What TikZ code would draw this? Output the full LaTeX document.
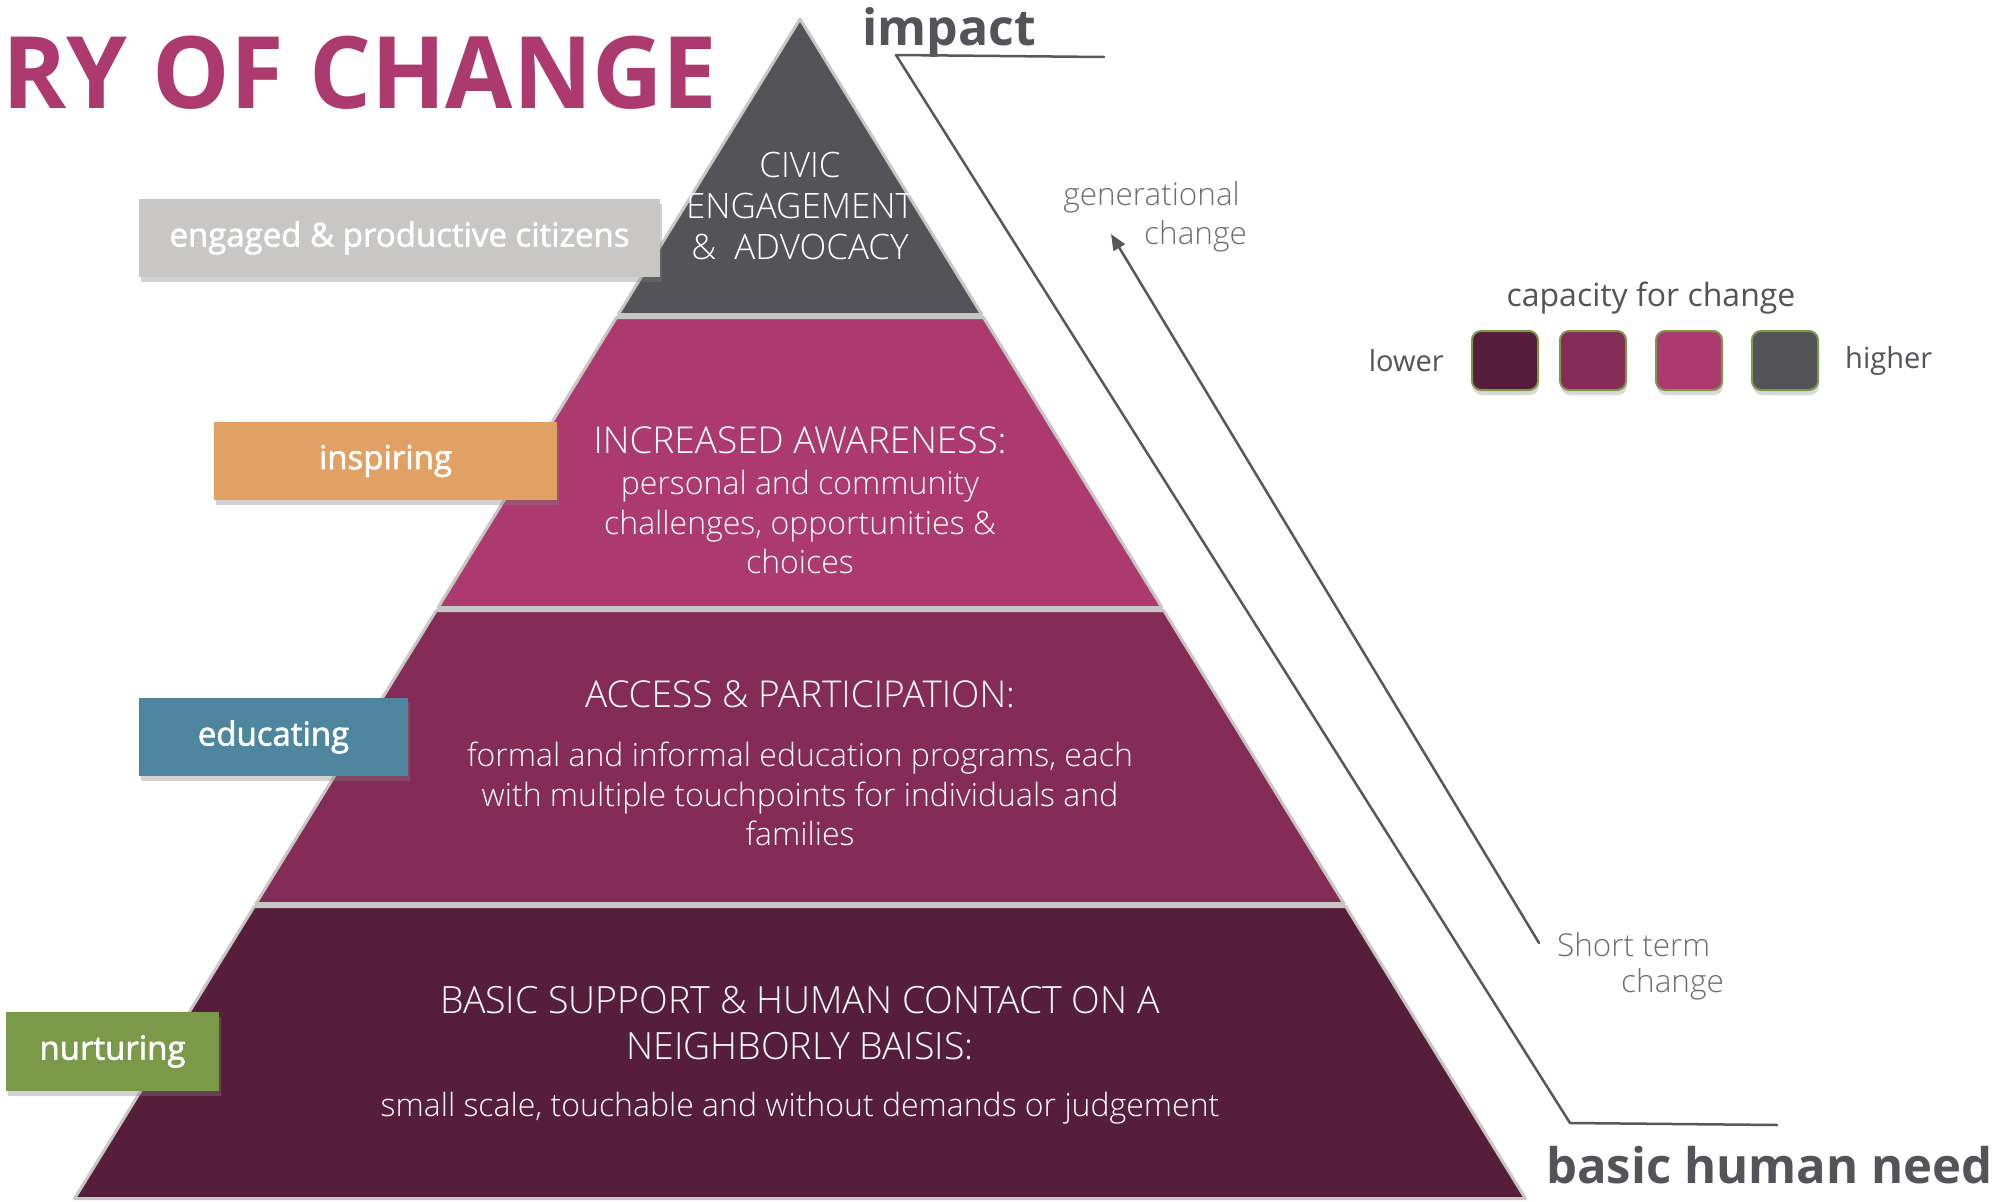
\documentclass[tikz,border=0pt]{standalone}
\usepackage{fontspec}
\setmainfont{Open Sans}
\newfontfamily\lightfont{Open Sans Light}
\newfontfamily\semifont{Open Sans}[FakeBold=1.8]
\usepackage{tikz}
\usetikzlibrary{positioning}
\usetikzlibrary{arrows.meta,shadows,calc}
\definecolor{tierA}{HTML}{545358}
\definecolor{tierB}{HTML}{AD3A6F}
\definecolor{tierC}{HTML}{842B56}
\definecolor{tierD}{HTML}{571E3B}
\definecolor{rim}{HTML}{C8C7C5}
\definecolor{inspire}{HTML}{E1A064}
\definecolor{educate}{HTML}{4E86A0}
\definecolor{nurture}{HTML}{7A9A4A}
\definecolor{guide}{HTML}{58585A}
\definecolor{soft}{HTML}{6E6E70}
\newcommand{\fs}[2]{\fontsize{#1}{#2}\selectfont}
\tikzstyle{every path}=[line join=round,line cap=round]
\tikzstyle{tierbox}=[draw=rim,line width=3pt]
\tikzstyle{tiertext}=[text=white,align=center,inner sep=0pt]
\tikzstyle{tagbox}=[inner sep=0pt,minimum height=78pt,text=white,
  font=\semifont\fs{33}{38},drop shadow={opacity=0.35,shadow xshift=2pt,shadow yshift=-5pt}]
\tikzstyle{guideline}=[draw=guide,line width=2.5pt]
\tikzstyle{swatch}=[draw=nurture,line width=2pt,rounded corners=9pt,minimum width=66pt,
  minimum height=59pt,inner sep=0pt,drop shadow={opacity=0.3,shadow xshift=1pt,shadow yshift=-5pt}]
\tikzstyle{note}=[text=soft,font=\lightfont\fs{31.5}{36},inner sep=0pt]

\begin{document}
\begin{tikzpicture}[x=1pt,y=-1pt]
  \useasboundingbox (0,0) rectangle (1998,1202);
  \fill[white] (0,0) rectangle (1998,1202);

  % pyramid tiers: top, bottom, colour
  \foreach \yt/\yb/\cl in {19/314.5/tierA,317.5/607.5/tierB,610.5/903.5/tierC,906.5/1198.5/tierD}
   {
    \pgfmathsetmacro{\wt}{0.615*(\yt-19)}
    \pgfmathsetmacro{\wb}{0.615*(\yb-19)}
    \filldraw[tierbox,fill=\cl] (800-\wt,\yt) -- (800+\wt,\yt) -- (800+\wb,\yb) -- (800-\wb,\yb) -- cycle;
   }

  % tier texts
  \node[tiertext,font=\lightfont\fs{35}{41}] (civic) at (800,206)
    {CIVIC\\ENGAGEMENT\\\&\ \ ADVOCACY};
  \node[tiertext,font=\lightfont\fs{37}{41}] (aware) at (800,440) {INCREASED AWARENESS:};
  \node[tiertext,font=\lightfont\fs{32}{39.5}] (awaresub) at (800,522)
    {personal and community\\challenges, opportunities \&\\choices};
  \node[tiertext,font=\lightfont\fs{37}{41}] (access) at (800,694) {ACCESS \& PARTICIPATION:};
  \node[tiertext,font=\lightfont\fs{32}{39.5}] (accesssub) at (800,794)
    {formal and informal education programs, each\\with multiple touchpoints for individuals and\\families};
  \node[tiertext,font=\lightfont\fs{37.5}{46}] (basic) at (800,1023)
    {BASIC SUPPORT \& HUMAN CONTACT ON A\\NEIGHBORLY BAISIS:};
  \node[tiertext,font=\lightfont\fs{32}{39.5}] (basicsub) at (800,1108)
    {small scale, touchable and without demands or judgement};

  % side tags
  \node[tagbox,fill=rim,minimum width=521pt] (citizens) at (399.5,238) {engaged \& productive citizens};
  \node[tagbox,fill=inspire,minimum width=343pt] (inspiring) at (385.5,461) {inspiring};
  \node[tagbox,fill=educate,minimum width=269pt] (educating) at (273.5,737) {educating};
  \node[tagbox,fill=nurture,minimum width=213pt,minimum height=79pt] (nurturing) at (112.5,1051.5) {nurturing};

  % title
  \node[anchor=base west,inner sep=0pt,text=tierB,font=\bfseries\fs{100}{110}] (title) at (2,108)
    {\scalebox{0.975}[1]{RY OF CHANGE}};

  % impact / need axis
  \node[anchor=base west,inner sep=0pt,text=tierA,font=\bfseries\fs{50}{56}] (impact) at (862,45) {impact};
  \node[anchor=base west,inner sep=0pt,text=tierA,font=\bfseries\fs{49}{56}] (need) at (1546,1183) {basic human need};
  \coordinate (imp0) at (1104,57);
  \coordinate (imp1) at (896,55);
  \coordinate (need0) at (1570,1123);
  \coordinate (need1) at (1777,1125);
  \draw[guideline] (imp0) -- (imp1) -- (need0) -- (need1);

  % change arrow
  \coordinate (short) at (1539,943);
  \coordinate (gener) at (1111,234);
  \draw[guideline,-{Triangle[length=16pt,width=13pt]}] (short) -- (gener);
  \node[note,anchor=east] (gen1) at (1240,197) {generational};
  \node[note,anchor=east] (gen2) at (1247,236) {change};
  \node[note,anchor=west] (st1) at (1557,945) {Short term};
  \node[note,anchor=west] (st2) at (1621,984) {change};

  % legend
  \node[inner sep=0pt,text=tierA,font=\fs{32}{36}] (capacity) at (1651,298) {capacity for change};
  \foreach \xx/\cl [count=\i] in {1505/tierD,1593/tierC,1689/tierB,1785/tierA}
    \node[swatch,fill=\cl] (sw\i) at (\xx,360.5) {};
  \node[inner sep=0pt,text=tierA,font=\fs{29}{36},left=27pt of sw1] (lower) {lower};
  \node[inner sep=0pt,text=tierA,font=\fs{29}{36},right=26pt of sw4] (higher) {higher};
\end{tikzpicture}
\end{document}
